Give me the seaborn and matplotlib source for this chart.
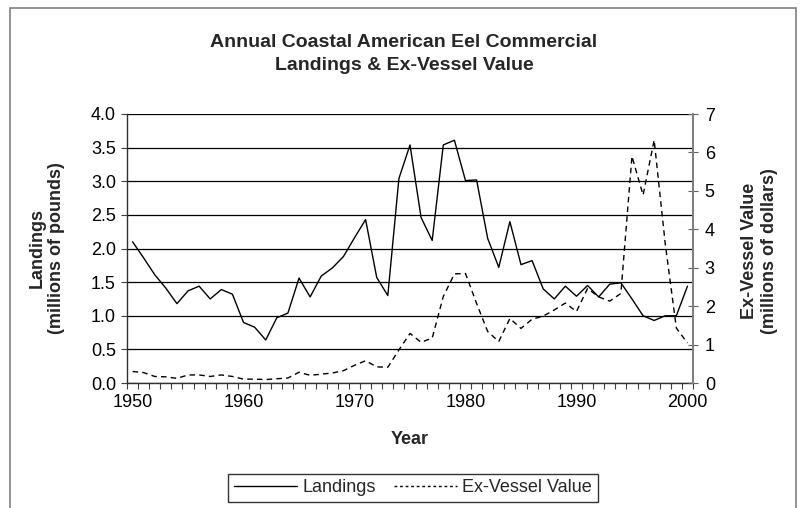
import matplotlib
matplotlib.use('Agg')
import matplotlib.pyplot as plt
import matplotlib.patches as patches
from matplotlib.lines import Line2D
from matplotlib.ticker import MultipleLocator
import seaborn as sns
import pandas as pd

# данные (читаем с картинки)
years = list(range(1950, 2001))
landings = [2.10, 1.86, 1.61, 1.41, 1.18, 1.37, 1.44, 1.25, 1.39, 1.32,
            0.90, 0.83, 0.64, 0.97, 1.04, 1.56, 1.28, 1.59, 1.71, 1.88,
            2.16, 2.43, 1.57, 1.30, 3.04, 3.54, 2.46, 2.12, 3.54, 3.61,
            3.01, 3.02, 2.15, 1.72, 2.40, 1.76, 1.82, 1.40, 1.25, 1.44,
            1.29, 1.45, 1.28, 1.47, 1.49, 1.25, 1.00, 0.93, 1.00, 1.00,
            1.44]
ex_vessel = [0.30, 0.27, 0.17, 0.16, 0.12, 0.21, 0.21, 0.17, 0.21, 0.17,
             0.10, 0.10, 0.09, 0.11, 0.13, 0.28, 0.20, 0.23, 0.26, 0.32,
             0.46, 0.58, 0.42, 0.41, 0.86, 1.29, 1.06, 1.17, 2.25, 2.84,
             2.85, 2.07, 1.34, 1.08, 1.68, 1.42, 1.66, 1.74, 1.90, 2.08,
             1.86, 2.46, 2.24, 2.13, 2.33, 5.90, 4.89, 6.32, 3.62, 1.43,
             1.04]
decade_ticks = [1950, 1960, 1970, 1980, 1990, 2000]

df = pd.DataFrame({'year': years, 'landings': landings, 'value': ex_vessel})

sns.set_theme(style='white')
plt.rcParams['font.family'] = ['Liberation Sans', 'DejaVu Sans']

fig = plt.figure(figsize=(8.01, 5.08), dpi=100)
ax = fig.add_axes([127 / 801, 1 - 383 / 508, 566 / 801, 269 / 508])
ax2 = ax.twinx()

dash = (0, (4, 3))
sns.lineplot(data=df, x='year', y='landings', ax=ax, color='black', linewidth=1)
sns.lineplot(data=df, x='year', y='value', ax=ax2, color='black', linewidth=1,
             linestyle=dash)

# оси
ax.set_xlim(1949.5, 2000.5)
ax.set_ylim(0, 4.0)
ax2.set_ylim(0, 7)
ax.yaxis.set_major_locator(MultipleLocator(0.5))
ax.yaxis.set_major_formatter(matplotlib.ticker.FormatStrFormatter('%.1f'))
ax2.yaxis.set_major_locator(MultipleLocator(1))
ax.set_xticks(decade_ticks)
ax.set_xticks([y + 0.5 for y in range(1949, 2001)], minor=True)
ax.grid(axis='y', color='black', linewidth=0.9)
ax.set_axisbelow(True)

ax.tick_params(axis='x', which='major', length=0, labelsize=13, pad=8, colors='black')
ax.tick_params(axis='x', which='minor', length=4, width=0.8, direction='out',
               bottom=True, color='#404040')
ax.tick_params(axis='y', length=4, width=0.8, direction='out', left=True,
               labelsize=13, pad=4, color='#404040', labelcolor='black')
ax2.tick_params(axis='y', length=7, width=0.8, direction='inout', right=True,
                labelsize=13, pad=5, color='#606060', labelcolor='black')

for s in ['top']:
    ax.spines[s].set_visible(False)
    ax2.spines[s].set_visible(False)
ax.spines['left'].set_color('#303030')
ax.spines['bottom'].set_color('#303030')
ax2.spines['right'].set_color('#808080')
ax2.spines['left'].set_visible(False)
ax2.spines['bottom'].set_visible(False)
ax.spines['right'].set_visible(False)
for s in ax.spines.values():
    s.set_linewidth(1)
ax2.spines['right'].set_linewidth(1.5)

ax.set_xlabel('Year', fontsize=13, fontweight='bold', labelpad=14)
ax.set_ylabel('Landings\n(millions of pounds)', fontsize=13, fontweight='bold',
              va='center', ha='center')
ax2.set_ylabel('Ex-Vessel Value\n(millions of dollars)', fontsize=13, fontweight='bold',
               rotation=90, va='center', ha='center')
ax.yaxis.set_label_coords(-0.141, 0.5)
ax2.yaxis.set_label_coords(1.118, 0.49)

fig.text(404 / 801, 1 - 54 / 508,
         'Annual Coastal American Eel Commercial\nLandings & Ex-Vessel Value',
         ha='center', va='center', fontsize=14, fontweight='bold',
         linespacing=1.45)

handles = [Line2D([], [], color='black', lw=1),
           Line2D([], [], color='black', lw=1, linestyle=(0, (2, 2)))]
leg = fig.legend(handles, ['Landings', 'Ex-Vessel Value'], ncol=2,
                 loc='center', bbox_to_anchor=(413 / 801, 1 - 488 / 508),
                 fontsize=13, frameon=True, fancybox=False, handlelength=3.5,
                 handletextpad=0.3, columnspacing=1.0, borderpad=0.3)
leg.get_frame().set_edgecolor('black')
leg.get_frame().set_linewidth(1)

# рамка всей диаграммы
fig.patches.append(patches.Rectangle((10 / 801, -0.1), 786 / 801, 1.1 - 8 / 508,
                                     transform=fig.transFigure, fill=False,
                                     edgecolor='#808080', linewidth=1.2))

plt.savefig('out.png', dpi=100)
